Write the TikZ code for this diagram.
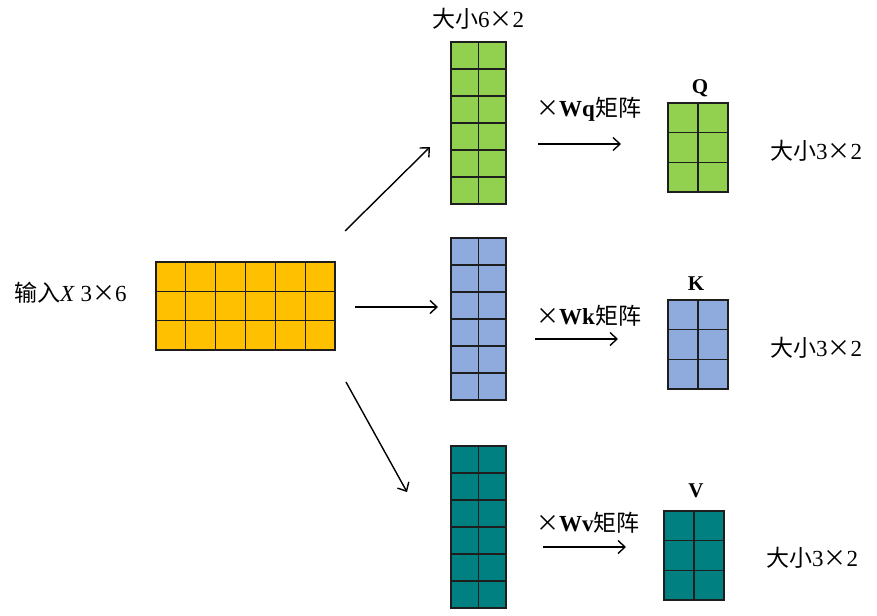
\documentclass[tikz,border=0pt]{standalone}
\usepackage{fontspec}
\setmainfont{Liberation Serif}
\newfontfamily\cjk{Noto Sans CJK SC}
\usetikzlibrary{arrows.meta,calc,positioning}
\definecolor{inyellow}{HTML}{FFC000}
\definecolor{qgreen}{HTML}{92D050}
\definecolor{kblue}{HTML}{8FAADC}
\definecolor{vteal}{HTML}{008080}
\definecolor{gridline}{HTML}{1E1E1E}
\tikzset{
  mat/.style={draw=gridline, line width=1.2pt, inner sep=0pt, outer sep=0pt, anchor=north west},
  cellline/.style={draw=gridline, line width=1.1pt},
  lbl/.style={font=\fontsize{23}{26}\selectfont, inner sep=0pt},
  arrow/.style={-{Straight Barb[length=7pt,width=13pt]}, line width=1.4pt, draw=black}
}
% grid inside a matrix node: name, columns, rows
\newcommand\matgrid[3]{%
  \foreach \i in {1,...,#2}
    \draw[cellline] ($(#1.north west)!\i/#2!(#1.north east)$) -- ($(#1.south west)!\i/#2!(#1.south east)$);
  \foreach \j in {1,...,#3}
    \draw[cellline] ($(#1.north west)!\j/#3!(#1.south west)$) -- ($(#1.north east)!\j/#3!(#1.south east)$);
}

\begin{document}
\begin{tikzpicture}[x=1pt, y=-1pt]
  \useasboundingbox (0,0) rectangle (877,615);

  % input
  \node[mat, fill=inyellow, minimum width=179pt, minimum height=88pt] (X) at (156,262) {};
  \matgrid{X}{6}{3}
  \node[lbl, anchor=west] (xlbl) at (14,293) {{\cjk 输入}\textit{X} 3{\cjk ×}6};

  % weight results 6x2
  \node[mat, fill=qgreen, minimum width=55pt, minimum height=162pt] (G) at (451,42) {};
  \node[mat, fill=kblue, minimum width=55pt, minimum height=162pt] (B) at (451,238) {};
  \node[mat, fill=vteal, minimum width=55pt, minimum height=162pt] (T) at (451,446) {};
  \matgrid{G}{2}{6}
  \matgrid{B}{2}{6}
  \matgrid{T}{2}{6}
  \node[lbl] (gsize) at (478,19) {{\cjk 大小}6{\cjk ×}2};

  % Q K V 3x2
  \node[mat, fill=qgreen, minimum width=60pt, minimum height=89pt] (Q) at (668,103) {};
  \node[mat, fill=kblue, minimum width=60pt, minimum height=89pt] (K) at (668,300) {};
  \node[mat, fill=vteal, minimum width=60pt, minimum height=89pt] (V) at (664,511) {};
  \matgrid{Q}{2}{3}
  \matgrid{K}{2}{3}
  \matgrid{V}{2}{3}
  \node[lbl, font=\fontsize{21}{24}\selectfont\bfseries] (qlbl) at (700,88) {Q};
  \node[lbl, font=\fontsize{21}{24}\selectfont\bfseries] (klbl) at (696,284) {K};
  \node[lbl, font=\fontsize{21}{24}\selectfont\bfseries] (vlbl) at (696,491) {V};
  \node[lbl] (qsize) at (816,151) {{\cjk 大小}3{\cjk ×}2};
  \node[lbl] (ksize) at (816,348) {{\cjk 大小}3{\cjk ×}2};
  \node[lbl] (vsize) at (812,558) {{\cjk 大小}3{\cjk ×}2};

  % multiply labels
  \node[lbl, anchor=west] (wq) at (536,109) {{\cjk ×}\textbf{Wq}{\cjk 矩阵}};
  \node[lbl, anchor=west] (wk) at (536,316) {{\cjk ×}\textbf{Wk}{\cjk 矩阵}};
  \node[lbl, anchor=west] (wv) at (536,523) {{\cjk ×}\textbf{Wv}{\cjk 矩阵}};

  % arrow ends
  \coordinate (a1s) at (345,231);
  \coordinate (a1e) at (430,147);
  \coordinate (a2s) at (355,307);
  \coordinate (a2e) at (438,307);
  \coordinate (a3s) at (346,382);
  \coordinate (a3e) at (407,492);
  \coordinate (qs) at (538,144);
  \coordinate (qe) at (621,144);
  \coordinate (ks) at (535,339);
  \coordinate (ke) at (618,339);
  \coordinate (vs) at (543,547);
  \coordinate (ve) at (626,547);

  \draw[arrow] (a1s) -- (a1e);
  \draw[arrow] (a2s) -- (a2e);
  \draw[arrow] (a3s) -- (a3e);
  \draw[arrow] (qs) -- (qe);
  \draw[arrow] (ks) -- (ke);
  \draw[arrow] (vs) -- (ve);
\end{tikzpicture}
\end{document}
